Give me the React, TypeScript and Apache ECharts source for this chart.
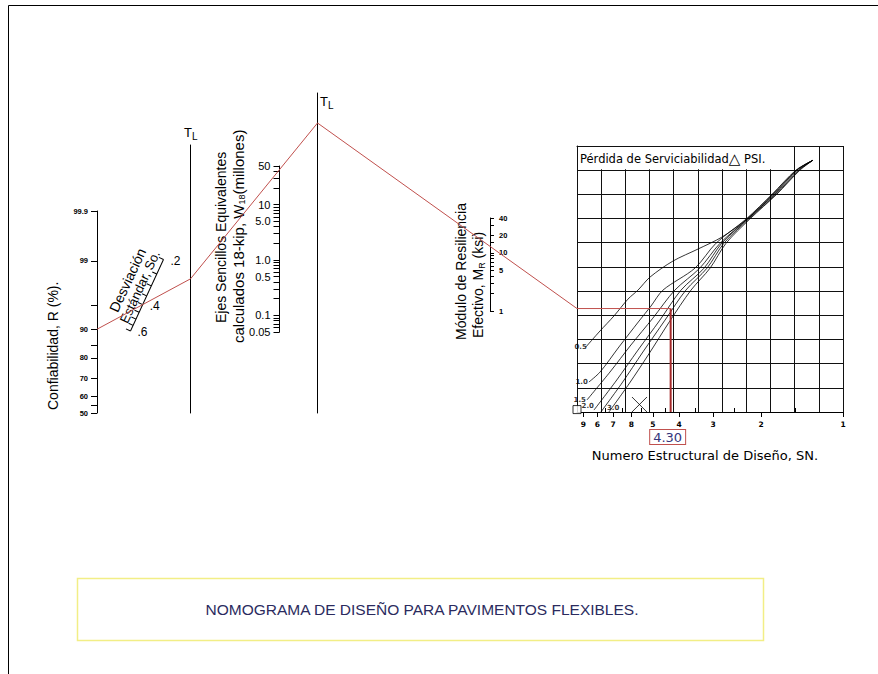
import React, { useEffect, useRef } from "react";
import * as echarts from "echarts";

// ---------------- DATA ----------------
const reliabilityLabels = [50, 60, 70, 80, 90, 99, 99.9];
const reliabilityTicks = [50, 55, 60, 70, 80, 85, 90, 95, 99, 99.9];
const reliabilityDesign = 90;

const soLabels = [0.2, 0.4, 0.6];
const soLabelText = [".2", ".4", ".6"];
const soTicks = [0.2, 0.25, 0.3, 0.35, 0.4, 0.45, 0.5, 0.55, 0.6];
const soDesign = 0.4;

const w18Labels = [0.05, 0.1, 0.5, 1, 5, 10, 50];
const w18LabelText = ["0.05", "0.1", "0.5", "1.0", "5.0", "10", "50"];
const w18Ticks = [0.05, 0.06, 0.07, 0.08, 0.09, 0.1, 0.2, 0.3, 0.4, 0.5, 0.6, 0.7, 0.8, 0.9, 1, 2, 3, 4, 5, 6, 7, 8, 9, 10, 20, 30, 40, 50];
const w18Design = 43;

const mrLabels = [1, 5, 10, 20, 40];
const mrLabelText = ["1", "5", "10", "20", "40"];
const mrTicks = [1, 2, 3, 4, 5, 6, 7, 8, 9, 10, 15, 20, 30, 40];
const mrDesign = 13;

const snLabels = [9, 8, 7, 6, 5, 4, 3, 2, 1];
const snLabelText = ["9", "6", "7", "8", "5", "4", "3", "2", "1"];
const snHalfTicks = [7.5, 6.5, 5.5, 4.5, 3.5, 2.5, 1.5];
const snMax = 9.5;
const snDesign = 4.3;
const snDesignText = "4.30";

// design chart curves: [SN, chart row]
const psiLabels = ["0.5", "1.0", "1.5", "2.0", "2.5", "3.0"];
const curve05 = [[8.81, 2.69], [7.82, 3.35], [6.95, 3.97], [6.17, 4.67], [5.67, 5.04], [5.12, 5.58], [4.22, 6.24], [3.41, 6.74], [2.79, 7.23], [2.25, 7.98], [1.79, 9.01], [1.48, 10.0], [1.29, 10.41]];
const curve10 = [[8.59, 1.24], [7.82, 1.65], [6.66, 2.69], [5.62, 3.76], [5.08, 4.38], [4.59, 5.04], [3.5, 5.95], [2.93, 6.98], [2.27, 7.98], [1.82, 9.01], [1.49, 10.0], [1.29, 10.41]];
const curve15 = [[8.73, 0.5], [7.19, 1.65], [6.02, 2.77], [5.0, 3.88], [4.15, 5.04], [3.36, 5.95], [2.83, 6.98], [2.25, 7.98], [1.81, 9.01], [1.48, 10.0], [1.29, 10.41]];
const curve20 = [[8.23, 0.08], [6.83, 1.28], [5.67, 2.56], [4.71, 3.8], [3.94, 5.04], [3.24, 5.95], [2.79, 6.98], [2.24, 7.98], [1.78, 9.01], [1.46, 10.0], [1.29, 10.41]];
const curve25 = [[7.76, 0], [6.49, 1.2], [5.44, 2.48], [4.51, 3.8], [3.78, 5.04], [3.16, 5.95], [2.74, 6.98], [2.22, 7.98], [1.76, 9.01], [1.45, 10.0], [1.29, 10.41]];
const curve30 = [[7.25, 0], [6.12, 1.16], [5.17, 2.4], [4.33, 3.76], [3.62, 5.04], [3.08, 5.95], [2.69, 6.98], [2.2, 7.98], [1.75, 9.01], [1.44, 10.0], [1.29, 10.41]];
const curves = [curve05, curve10, curve15, curve20, curve25, curve30];
const curveLabelShown = [true, true, true, true, false, true];

const squareMarker = [9.5, 0.1];
const crossMarker = [5.6, 0.31];

// ---------------- HELPERS ----------------
function probit(p: number): number {
  const a = [-39.69683028665376, 220.9460984245205, -275.9285104469687, 138.357751867269, -30.66479806614716, 2.506628277459239];
  const b = [-54.47609879822406, 161.5858368580409, -155.6989798598866, 66.80131188771972, -13.28068155288572];
  const c = [-0.007784894002430293, -0.3223964580411365, -2.400758277161838, -2.549732539343734, 4.374664141464968, 2.938163982698783];
  const d = [0.007784695709041462, 0.3224671290700398, 2.445134137142996, 3.754408661907416];
  const pl = 0.02425;
  if (p < pl) {
    const q = Math.sqrt(-2 * Math.log(p));
    return (((((c[0] * q + c[1]) * q + c[2]) * q + c[3]) * q + c[4]) * q + c[5]) / ((((d[0] * q + d[1]) * q + d[2]) * q + d[3]) * q + 1);
  }
  if (p <= 1 - pl) {
    const q = p - 0.5;
    const r = q * q;
    return ((((((a[0] * r + a[1]) * r + a[2]) * r + a[3]) * r + a[4]) * r + a[5]) * q) / (((((b[0] * r + b[1]) * r + b[2]) * r + b[3]) * r + b[4]) * r + 1);
  }
  const q = Math.sqrt(-2 * Math.log(1 - p));
  return -(((((c[0] * q + c[1]) * q + c[2]) * q + c[3]) * q + c[4]) * q + c[5]) / ((((d[0] * q + d[1]) * q + d[2]) * q + d[3]) * q + 1);
}
const rz = (r: number) => probit(r / 100);
const lg = Math.log10;
const nearest = (vals: number[], texts: string[]) => (v: number) => {
  let bi = 0;
  let bd = Infinity;
  vals.forEach((x, i) => {
    const dd = Math.abs(x - v);
    if (dd < bd) {
      bd = dd;
      bi = i;
    }
  });
  return texts[bi];
};
const yAt = (p: number[], q: number[], x: number) => p[1] + ((q[1] - p[1]) * (x - p[0])) / (q[0] - p[0]);

// ---------------- LAYOUT ----------------
const CAD = '"DejaVu Sans", sans-serif';
const ARIAL = '"Liberation Sans", Arial, sans-serif';
const SO_BOTTOM = [130.5, 331];
const SO_TOP = [163.5, 259.5];
const DESIGN = { left: 577, top: 146, width: 266, height: 266 };

const lineAxisStyle = { color: "#000", width: 1 };
const hiddenX = (gi: number) => ({ gridIndex: gi, type: "value", min: 0, max: 1, show: false });
const plainLineY = (gi: number) => ({
  gridIndex: gi,
  type: "value",
  min: 0,
  max: 1,
  position: "left",
  axisLine: { show: true, onZero: false, lineStyle: lineAxisStyle },
  axisTick: { show: false },
  axisLabel: { show: false },
  splitLine: { show: false },
});

function buildOption(): any {
  const rzLabels = reliabilityLabels.map(rz);
  const w18L = w18Labels.map(lg);
  const mrL = mrLabels.map(lg);
  const snL = snLabels.map(lg);
  const gridLine = { show: true, lineStyle: { color: "#111", width: 1 } };
  const series: any[] = curves.map((c, i) => ({
    type: "line",
    name: "ΔPSI " + psiLabels[i],
    xAxisIndex: 6,
    yAxisIndex: 5,
    data: c.map(([s, r]) => [lg(s), r]),
    smooth: 0.3,
    symbol: "none",
    silent: true,
    lineStyle: { color: "#000", width: 0.8 },
  }));
  const labelPos = ["left", "left", "left", "left", "left", "right"];
  const labelOff = [[2, 0], [0, 0], [0, 0], [1, -4], [0, 0], [-3, -4]];
  series.push({
    type: "scatter",
    xAxisIndex: 6,
    yAxisIndex: 5,
    symbolSize: 0,
    silent: true,
    clip: false,
    data: curves.map((c, i) => ({
      value: [lg(c[0][0]), c[0][1]],
      label: {
        show: curveLabelShown[i],
        formatter: psiLabels[i],
        position: labelPos[i],
        distance: 1,
        offset: labelOff[i],
        fontSize: 7,
        fontWeight: "bold",
        color: "#000",
        fontFamily: CAD,
      },
    })),
  });
  series.push({
    type: "scatter",
    xAxisIndex: 6,
    yAxisIndex: 5,
    clip: false,
    silent: true,
    symbol: "rect",
    symbolSize: 8,
    itemStyle: { color: "#fff", borderColor: "#000", borderWidth: 1 },
    data: [[lg(squareMarker[0]), squareMarker[1]]],
  });
  series.push({
    type: "scatter",
    xAxisIndex: 6,
    yAxisIndex: 5,
    clip: false,
    silent: true,
    symbol: "path://M0,0L10,10M10,0L0,10",
    symbolSize: 15,
    itemStyle: { color: "none", borderColor: "#000", borderWidth: 1 },
    data: [[lg(crossMarker[0]), crossMarker[1]]],
  });

  return {
    animation: false,
    backgroundColor: "#fff",
    grid: [
      { left: 97, top: 211, width: 1, height: 202 },
      { left: 190.5, top: 145, width: 1, height: 268 },
      { left: 279.5, top: 166, width: 1, height: 166 },
      { left: 317.5, top: 93, width: 1, height: 320 },
      { left: 489, top: 218, width: 1, height: 93 },
      DESIGN,
    ],
    xAxis: [
      hiddenX(0),
      hiddenX(1),
      hiddenX(2),
      hiddenX(3),
      hiddenX(4),
      {
        gridIndex: 5,
        type: "value",
        min: 0,
        max: 11,
        interval: 1,
        position: "top",
        axisLine: { show: true, onZero: false, lineStyle: { color: "#111", width: 1 } },
        axisTick: { show: false },
        axisLabel: { show: false },
        splitLine: gridLine,
      },
      {
        gridIndex: 5,
        type: "value",
        min: 0,
        max: lg(snMax),
        inverse: true,
        position: "bottom",
        axisLine: { show: true, onZero: false, lineStyle: lineAxisStyle },
        axisTick: { show: true, length: 5, customValues: snL, lineStyle: { color: "#000" } },
        axisLabel: {
          show: true,
          customValues: snL,
          formatter: nearest(snL, snLabelText),
          fontSize: 7.5,
          fontWeight: "bold",
          color: "#000",
          margin: 8,
          fontFamily: CAD,
        },
        splitLine: { show: false },
      },
      {
        gridIndex: 5,
        type: "value",
        min: 0,
        max: lg(snMax),
        inverse: true,
        position: "bottom",
        axisLine: { show: false },
        axisTick: { show: true, inside: true, length: 4, customValues: snHalfTicks.map(lg), lineStyle: { color: "#000" } },
        axisLabel: { show: false },
        splitLine: { show: false },
      },
    ],
    yAxis: [
      {
        gridIndex: 0,
        type: "value",
        min: 0,
        max: rz(99.9),
        position: "left",
        axisLine: { show: true, onZero: false, lineStyle: lineAxisStyle },
        axisTick: { show: true, length: 6, customValues: reliabilityTicks.map(rz), lineStyle: { color: "#000" } },
        axisLabel: {
          show: true,
          customValues: rzLabels,
          formatter: nearest(rzLabels, reliabilityLabels.map(String)),
          fontSize: 7.5,
          fontWeight: "bold",
          color: "#000",
          margin: 9,
          fontFamily: ARIAL,
        },
        splitLine: { show: false },
      },
      plainLineY(1),
      {
        gridIndex: 2,
        type: "value",
        min: lg(0.05),
        max: lg(50),
        position: "left",
        axisLine: { show: true, onZero: false, lineStyle: lineAxisStyle },
        axisTick: { show: true, length: 6, customValues: w18Ticks.map(lg), lineStyle: { color: "#000" } },
        axisLabel: {
          show: true,
          customValues: w18L,
          formatter: nearest(w18L, w18LabelText),
          fontSize: 11,
          color: "#000",
          margin: 9,
          fontFamily: ARIAL,
        },
        splitLine: { show: false },
      },
      plainLineY(3),
      {
        gridIndex: 4,
        type: "value",
        min: 0,
        max: lg(40),
        position: "right",
        axisLine: { show: true, onZero: false, lineStyle: lineAxisStyle },
        axisTick: { show: true, length: 4, customValues: mrTicks.map(lg), lineStyle: { color: "#000" } },
        axisLabel: {
          show: true,
          customValues: mrL,
          formatter: nearest(mrL, mrLabelText),
          fontSize: 7.5,
          fontWeight: "bold",
          color: "#000",
          margin: 9,
          fontFamily: ARIAL,
        },
        splitLine: { show: false },
      },
      {
        gridIndex: 5,
        type: "value",
        min: 0,
        max: 11,
        interval: 1,
        position: "left",
        axisLine: { show: true, onZero: false, lineStyle: { color: "#111", width: 1 } },
        axisTick: { show: false },
        axisLabel: { show: false },
        splitLine: gridLine,
      },
    ],
    series,
  };
}

function buildGraphics(chart: any): any[] {
  const g: any[] = [];
  const txt = (x: number, y: number, text: string, font: string, extra: any = {}, rotation = 0) => ({
    type: "text",
    x,
    y,
    rotation,
    z: 20,
    style: { text, font, fill: "#000", align: "left", verticalAlign: "middle", ...extra },
  });
  const richSub = (x: number, y: number, text: string, size: number) => ({
    type: "text",
    x,
    y,
    rotation: Math.PI / 2,
    z: 20,
    style: {
      text,
      align: "left",
      verticalAlign: "middle",
      rich: {
        a: { font: size + "px " + ARIAL, fill: "#000" },
        s: { font: Math.round(size * 0.62) + "px " + ARIAL, fill: "#000", padding: [7, 0, 0, 0] },
      },
    },
  });

  // frame
  g.push({ type: "line", z: 20, shape: { x1: 8.5, y1: 5.5, x2: 878, y2: 5.5 }, style: { stroke: "#000", lineWidth: 1 } });
  g.push({ type: "line", z: 20, shape: { x1: 8.5, y1: 5.5, x2: 8.5, y2: 674 }, style: { stroke: "#000", lineWidth: 1 } });

  // axis titles
  g.push(txt(53, 410, "Confiabilidad, R (%).", "14px " + ARIAL, {}, Math.PI / 2));
  g.push(txt(221, 323, "Ejes Sencillos Equivalentes", "14px " + ARIAL, {}, Math.PI / 2));
  g.push(richSub(238, 343, "{a|calculados 18-kip, W}{s|18}{a|(millones)}", 15));
  g.push(txt(461, 340, "Módulo de Resiliencia", "14px " + ARIAL, {}, Math.PI / 2));
  g.push(richSub(478, 338, "{a|Efectivo, M}{s|R}{a| (ksi)}", 14));
  const tl = (x: number, y: number) => ({
    type: "text",
    x,
    y,
    z: 20,
    style: {
      text: "{t|T}{s|L}",
      align: "left",
      verticalAlign: "middle",
      rich: {
        t: { font: "13px " + ARIAL, fill: "#000" },
        s: { font: "10px " + ARIAL, fill: "#000", padding: [9, 0, 0, 0] },
      },
    },
  });
  g.push(tl(184, 132));
  g.push(tl(320, 101));

  // So scale (log scale, tilted)
  const dx = SO_TOP[0] - SO_BOTTOM[0];
  const dy = SO_TOP[1] - SO_BOTTOM[1];
  const L = Math.hypot(dx, dy);
  const ux = dx / L;
  const uy = dy / L;
  const theta = Math.atan2(-dy, dx);
  const soHi = soLabels[soLabels.length - 1];
  const soLo = soLabels[0];
  const soPos = (v: number) => (L * (Math.log(soHi) - Math.log(v))) / (Math.log(soHi) - Math.log(soLo));
  const soChildren: any[] = [
    { type: "line", shape: { x1: 0, y1: 0, x2: L, y2: 0 }, style: { stroke: "#000", lineWidth: 1 } },
  ];
  soTicks.forEach((v) => {
    const p = soPos(v);
    soChildren.push({ type: "line", shape: { x1: p, y1: 0, x2: p, y2: -5 }, style: { stroke: "#000", lineWidth: 1 } });
  });
  soChildren.push({ type: "text", x: 45, y: -24, style: { text: "Desviación", font: "14px " + ARIAL, fill: "#000", align: "center", verticalAlign: "middle" } });
  soChildren.push({ type: "text", x: 44, y: -10, style: { text: "Estándar, So.", font: "13px " + ARIAL, fill: "#000", align: "center", verticalAlign: "middle" } });
  g.push({ type: "group", x: SO_BOTTOM[0], y: SO_BOTTOM[1], rotation: theta, z: 20, children: soChildren });
  soLabels.forEach((v, i) => {
    const p = soPos(v);
    g.push(txt(SO_BOTTOM[0] + p * ux + 7, SO_BOTTOM[1] + p * uy + 1, soLabelText[i], "12px " + ARIAL));
  });

  // design chart title row
  g.push({ type: "rect", z: 15, shape: { x: DESIGN.left + 1, y: DESIGN.top + 1, width: 197, height: DESIGN.height / 11 - 2 }, style: { fill: "#fff" } });
  g.push({
    type: "text",
    x: DESIGN.left + 3,
    y: DESIGN.top + DESIGN.height / 22 + 1,
    z: 20,
    style: {
      text: "{a|Pérdida de Serviciabilidad}{b|△}{a| PSI.}",
      align: "left",
      verticalAlign: "middle",
      rich: {
        a: { font: "11.5px " + CAD, fill: "#000" },
        b: { font: "15px " + CAD, fill: "#000" },
      },
    },
  });
  g.push({
    type: "text",
    x: 705,
    y: 455,
    z: 20,
    style: { text: "Numero Estructural de Diseño, SN.", font: "13px " + CAD, fill: "#000", align: "center", verticalAlign: "middle" },
  });

  // construction line through the scales
  const pR = chart.convertToPixel({ gridIndex: 0 }, [0, rz(reliabilityDesign)]);
  const pSo = [SO_BOTTOM[0] + soPos(soDesign) * ux, SO_BOTTOM[1] + soPos(soDesign) * uy];
  const xTL1 = chart.convertToPixel({ gridIndex: 1 }, [0, 0])[0];
  const tl1 = [xTL1, yAt(pR, pSo, xTL1)];
  const pW = chart.convertToPixel({ gridIndex: 2 }, [0, lg(w18Design)]);
  const xTL2 = chart.convertToPixel({ gridIndex: 3 }, [0, 0])[0];
  const tl2 = [xTL2, yAt(tl1, pW, xTL2)];
  const pM = chart.convertToPixel({ gridIndex: 4 }, [1, lg(mrDesign)]);
  const xG = chart.convertToPixel({ xAxisIndex: 5 }, 0);
  const yG = yAt(tl2, pM, xG);
  const xSN = chart.convertToPixel({ xAxisIndex: 6 }, lg(snDesign));
  const yB = chart.convertToPixel({ yAxisIndex: 5 }, 0);
  g.push({
    type: "polyline",
    z: 25,
    shape: { points: [pR, tl1, tl2, [xG, yG], [xSN, yG]] },
    style: { stroke: "#c0504d", lineWidth: 1, fill: null },
  });
  g.push({ type: "line", z: 25, shape: { x1: xSN, y1: yG, x2: xSN, y2: yB }, style: { stroke: "#a52a2a", lineWidth: 2 } });
  g.push({
    type: "text",
    x: xSN - 3,
    y: 437,
    z: 25,
    style: {
      text: snDesignText,
      font: "13px " + CAD,
      fill: "#35357a",
      align: "center",
      verticalAlign: "middle",
      borderColor: "#c0504d",
      borderWidth: 1,
      padding: [1, 3, 0, 3],
      backgroundColor: "#fff",
    },
  });

  // title box
  g.push({ type: "rect", z: 20, shape: { x: 77.5, y: 578.5, width: 686, height: 62 }, style: { fill: "none", stroke: "#f2ee86", lineWidth: 1.5 } });
  g.push({
    type: "text",
    x: 422,
    y: 609,
    z: 20,
    style: { text: "NOMOGRAMA DE DISEÑO PARA PAVIMENTOS FLEXIBLES.", font: "15.5px " + ARIAL, fill: "#2b2b5e", align: "center", verticalAlign: "middle" },
  });
  return g;
}

export default function App() {
  const ref = useRef<HTMLDivElement>(null);
  useEffect(() => {
    if (!ref.current) return;
    const chart = echarts.init(ref.current, null, { renderer: "svg" });
    chart.setOption(buildOption());
    chart.setOption({ graphic: buildGraphics(chart) });
    return () => chart.dispose();
  }, []);
  return (
    <div
      ref={ref}
      style={{ position: "fixed", left: 0, top: 0, width: 878, height: 674, background: "#fff" }}
    />
  );
}
